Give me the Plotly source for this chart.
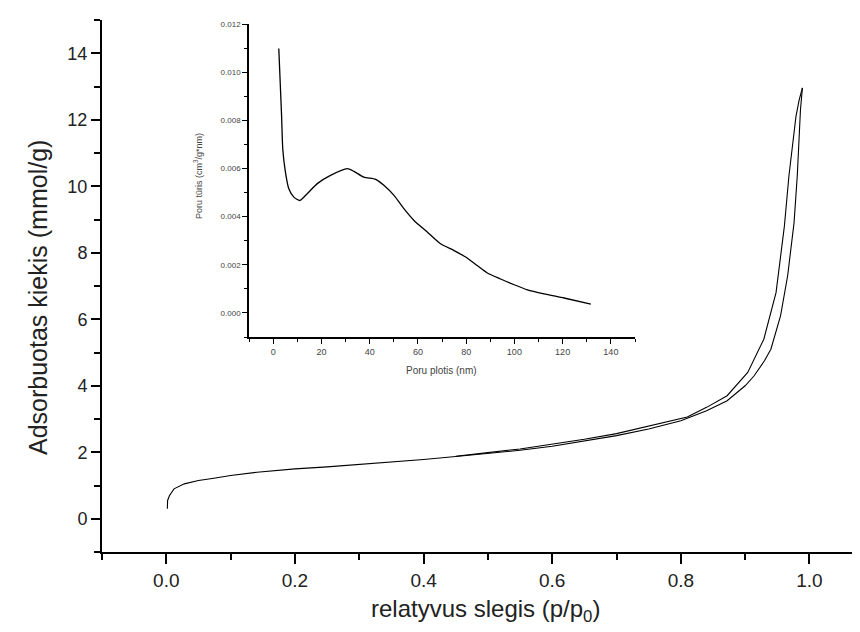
import plotly.graph_objects as go

# Main isotherm: adsorption branch
ads_p = [0.0016, 0.002, 0.005, 0.012, 0.028, 0.05, 0.074, 0.1, 0.141, 0.2, 0.25, 0.3,
         0.35, 0.4, 0.45, 0.5, 0.55, 0.6, 0.65, 0.7, 0.75, 0.8, 0.84, 0.872, 0.9,
         0.914, 0.93, 0.94, 0.955, 0.966, 0.976, 0.981, 0.986, 0.989]
ads_q = [0.3, 0.55, 0.7, 0.9, 1.05, 1.15, 1.22, 1.3, 1.4, 1.5, 1.56, 1.63,
         1.7, 1.78, 1.87, 1.96, 2.06, 2.18, 2.33, 2.5, 2.7, 2.95, 3.25, 3.55, 4.0,
         4.3, 4.75, 5.1, 6.1, 7.3, 8.9, 10.3, 12.3, 12.96]
# Desorption branch
des_p = [0.989, 0.984, 0.979, 0.968, 0.961, 0.948, 0.929, 0.904, 0.872, 0.84,
         0.81, 0.75, 0.7, 0.65, 0.6, 0.55, 0.5, 0.45]
des_q = [12.96, 12.6, 12.1, 10.3, 8.8, 6.8, 5.4, 4.4, 3.7, 3.35,
         3.06, 2.78, 2.56, 2.39, 2.24, 2.1, 1.99, 1.88]

# Inset: pore size distribution
pore_d = [2.35, 3.5, 4.0, 5.1, 6.5, 8.6, 11.1, 14.1, 18.3, 23.8, 30.7, 33.5, 37.6,
          42.5, 45.9, 50.1, 54.2, 58.4, 63.9, 69.4, 75.0, 79.8, 84.6, 88.8, 94.3,
          99.9, 105.4, 112.3, 120.6, 131.7]
pore_v = [0.01098, 0.0082, 0.0068, 0.00585, 0.00516, 0.00481, 0.00467, 0.00495,
          0.00537, 0.00571, 0.00599, 0.00588, 0.00564, 0.00555, 0.0053, 0.00488,
          0.00433, 0.00384, 0.00336, 0.00287, 0.00259, 0.00232, 0.00197, 0.00166,
          0.00141, 0.00117, 0.00096, 0.00079, 0.00062, 0.00037]

x_title = "relatyvus slegis (p/p<sub>0</sub>)"
y_title = "Adsorbuotas kiekis (mmol/g)"
inset_x_title = "Poru plotis (nm)"
inset_y_title = "Poru tūris (cm<sup>3</sup>/g*nm)"

fig = go.Figure()
line = dict(color="black", width=1.1)
fig.add_trace(go.Scatter(x=ads_p, y=ads_q, mode="lines", line=line, showlegend=False))
fig.add_trace(go.Scatter(x=des_p, y=des_q, mode="lines", line=line, showlegend=False))
fig.add_trace(go.Scatter(x=pore_d, y=pore_v, mode="lines", line=dict(color="black", width=1.3, shape="spline", smoothing=0.6),
                         xaxis="x2", yaxis="y2", showlegend=False))

font_main = "Liberation Sans, Arial, sans-serif"
W, H = 860, 632
L, R, T, B = 94, 0, 12, 88
pw, ph = W - L - R, H - T - B

def dx(px):
    return (px - L) / pw

def dy(py):
    return (H - B - py) / ph

fig.update_layout(
    width=W, height=H,
    margin=dict(l=L, r=R, t=T, b=B),
    paper_bgcolor="white", plot_bgcolor="white",
    font=dict(family=font_main, color="#222"),
    xaxis=dict(range=[-0.1, 1.091], tickmode="linear", tick0=0, dtick=0.2, tickformat=".1f",
               showline=True, linewidth=2, linecolor="black", ticks="outside", ticklen=10,
               tickwidth=2, tickcolor="black", showgrid=False, zeroline=False,
               tickfont=dict(size=19, color="#222"),
               minor=dict(ticks="outside", ticklen=6, tickwidth=2, tickcolor="black",
                          tick0=0, dtick=0.1, showgrid=False)),
    yaxis=dict(range=[-1, 15], tickmode="linear", tick0=0, dtick=2,
               showline=True, linewidth=2, linecolor="black", ticks="outside", ticklen=9,
               tickwidth=2, tickcolor="black", showgrid=False, zeroline=False,
               tickfont=dict(size=18, color="#222"),
               minor=dict(ticks="outside", ticklen=6, tickwidth=2, tickcolor="black",
                          tick0=0, dtick=1, showgrid=False)),
    xaxis2=dict(domain=[dx(241), dx(627)], anchor="y2", range=[-10, 150], tickmode="linear",
                tick0=0, dtick=20, showline=True, linewidth=1.5, linecolor="black",
                ticks="outside", ticklen=5, tickwidth=1.2, tickcolor="black",
                showgrid=False, zeroline=False, tickfont=dict(size=9, color="#444"),
                minor=dict(ticks="outside", ticklen=3, tickwidth=1, tickcolor="black",
                           tick0=0, dtick=10, showgrid=False)),
    yaxis2=dict(domain=[dy(329), dy(16)], anchor="x2", range=[-0.001, 0.012], tickmode="linear",
                tick0=0, dtick=0.002, tickformat=".3f", showline=True, linewidth=1.5,
                linecolor="black", ticks="outside", ticklen=5, tickwidth=1.2, tickcolor="black",
                showgrid=False, zeroline=False, tickfont=dict(size=8, color="#444"),
                minor=dict(ticks="outside", ticklen=3, tickwidth=1, tickcolor="black",
                           tick0=0, dtick=0.001, showgrid=False)),
    annotations=[
        dict(text=x_title, xref="paper", yref="paper", x=dx(478), y=dy(602),
             showarrow=False, font=dict(size=24, color="#222"), xanchor="center", yanchor="middle"),
        dict(text=y_title, xref="paper", yref="paper", x=dx(30), y=dy(290), textangle=-90,
             showarrow=False, font=dict(size=25, color="#222"), xanchor="center", yanchor="middle"),
        dict(text=inset_x_title, xref="paper", yref="paper", x=dx(433), y=dy(362),
             showarrow=False, font=dict(size=10, color="#444"), xanchor="center", yanchor="middle"),
        dict(text=inset_y_title, xref="paper", yref="paper", x=dx(190), y=dy(168), textangle=-90,
             showarrow=False, font=dict(size=9, color="#444"), xanchor="center", yanchor="middle"),
    ],
)

fig.write_html("out.html")
